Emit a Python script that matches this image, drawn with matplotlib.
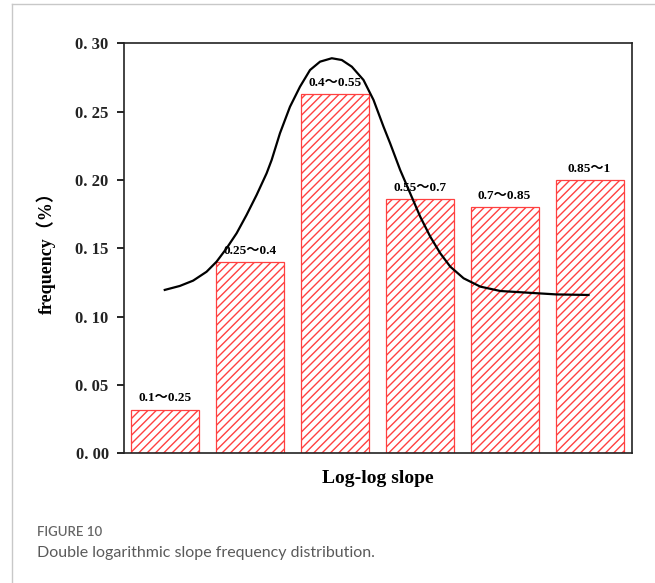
import matplotlib.pyplot as plt
from matplotlib.lines import Line2D

# bar data
ranges = ['0.1～0.25', '0.25～0.4', '0.4～0.55', '0.55～0.7', '0.7～0.85', '0.85～1']
freq = [0.032, 0.140, 0.263, 0.186, 0.180, 0.200]

# fitted curve (x in bar index units)
curve_x = [0.000, 0.177, 0.334, 0.492, 0.610, 0.728, 0.846, 0.963, 1.081, 1.199,
           1.258, 1.356, 1.474, 1.592, 1.710, 1.828, 1.966, 2.084, 2.202, 2.339,
           2.457, 2.575, 2.653, 2.771, 2.889, 3.007, 3.125, 3.243, 3.361, 3.518,
           3.715, 3.950, 4.265, 4.610, 4.988]
curve_y = [0.1196, 0.1225, 0.1264, 0.1329, 0.1403, 0.1501, 0.1611, 0.1745, 0.1891, 0.2050,
           0.2147, 0.2343, 0.2537, 0.2684, 0.2806, 0.2867, 0.2892, 0.2879, 0.2830, 0.2733,
           0.2587, 0.2391, 0.2269, 0.2074, 0.1903, 0.1732, 0.1586, 0.1464, 0.1366, 0.1281,
           0.1220, 0.1188, 0.1176, 0.1163, 0.1159]

yticks = [0.0, 0.05, 0.10, 0.15, 0.20, 0.25, 0.30]
yticklabels = ['0. 00', '0. 05', '0. 10', '0. 15', '0. 20', '0. 25', '0. 30']

serif = ['Liberation Serif', 'Noto Sans CJK SC']

fig = plt.figure(figsize=(6.55, 5.83), dpi=100)
ax = fig.add_axes([0.1893, 0.2225, 0.7756, 0.7029])

pos = list(range(len(freq)))
ax.bar(pos, freq, width=0.8, color='white', edgecolor='#ff4040', hatch='////', linewidth=0.9)
for x, v, lab in zip(pos, freq, ranges):
    ax.text(x, v + 0.004, lab, ha='center', va='bottom', fontsize=9.5,
            fontweight='bold', family=serif)

ax.plot(curve_x, curve_y, color='black', lw=1.6, solid_joinstyle='round')

ax.set_xlim(-0.48, 5.5)
ax.set_ylim(0, 0.30)
ax.set_xticks([])
ax.set_yticks(yticks)
ax.set_yticklabels(yticklabels, family=serif, fontsize=12, fontweight='bold', color='#222222')
ax.tick_params(axis='y', direction='out', length=5, width=1.2, pad=6)
for s in ax.spines.values():
    s.set_linewidth(1.2)
    s.set_color('#222222')

ax.set_ylabel('frequency（%）', family=serif, fontsize=13, fontweight='bold', labelpad=14)
ax.set_xlabel('Log-log slope', family=serif, fontsize=14, fontweight='bold', labelpad=12)

# card frame and caption
fig.add_artist(Line2D([12 / 655, 12 / 655], [0, 1 - 4 / 583], transform=fig.transFigure,
                      color='#c8c8c8', lw=1))
fig.add_artist(Line2D([12 / 655, 1], [1 - 4 / 583, 1 - 4 / 583], transform=fig.transFigure,
                      color='#c8c8c8', lw=1))
fig.text(37 / 655, 1 - 532 / 583, 'FIGURE 10', fontsize=9.5, color='#666666',
         family='Lato', fontweight='semibold', va='center')
fig.text(37 / 655, 1 - 553 / 583, 'Double logarithmic slope frequency distribution.',
         fontsize=11.5, color='#5a5a5a', family='Lato', va='center')

fig.savefig('out.png', dpi=100)
